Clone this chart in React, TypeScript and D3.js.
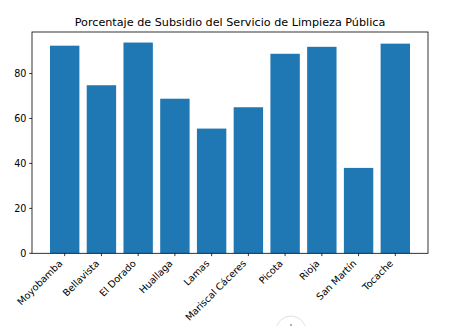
import React from "react";
import * as d3 from "d3";

const categories = ["Moyobamba", "Bellavista", "El Dorado", "Huallaga", "Lamas", "Mariscal Cáceres", "Picota", "Rioja", "San Martín", "Tocache"];
const values = [92.4, 74.8, 93.8, 68.8, 55.5, 65.0, 88.8, 91.9, 38.0, 93.3];
const yTicks = [0, 20, 40, 60, 80];
const title = "Porcentaje de Subsidio del Servicio de Limpieza Pública";

const W = 452, H = 326;
const L = 32, R = 428, T = 32, B = 253.3;
const FONT = "DejaVu Sans, sans-serif";

export default function App() {
  const n = categories.length;
  const lo = -0.4, hi = n - 1 + 0.4;
  const m = (hi - lo) * 0.05;
  const x = d3.scaleLinear().domain([lo - m, hi + m]).range([L, R]);
  const ymax = d3.max(values)! * 1.05;
  const y = d3.scaleLinear().domain([0, ymax]).range([B, T]);
  const fs = 9.6;
  const asc = 0.76 * fs, desc = 0.24 * fs;
  const Y0 = B + 2.8 + 2.8;
  return (
    <svg width={W} height={H} style={{ position: "absolute", left: 0, top: 0, background: "#fff" }} fontFamily={FONT}>
      <rect x={0} y={0} width={W} height={H} fill="#fff" />
      <text x={(L + R) / 2} y={26} textAnchor="middle" fontSize={11.2} fill="#000">{title}</text>
      {values.map((v, i) => (
        <rect key={i} x={x(i - 0.4)} y={y(v)} width={x(i + 0.4) - x(i - 0.4)} height={B - y(v)} fill="#1f77b4" />
      ))}
      <rect x={L} y={T} width={R - L} height={B - T} fill="none" stroke="#000" strokeWidth={0.8} />
      {yTicks.map((t) => (
        <g key={t}>
          <line x1={L - 2.8} x2={L} y1={y(t)} y2={y(t)} stroke="#000" strokeWidth={0.8} />
          <text x={L - 5.6} y={y(t)} dy="0.35em" textAnchor="end" fontSize={fs} fill="#000">{t}</text>
        </g>
      ))}
      {categories.map((c, i) => {
        const tx = x(i);
        const bx = tx - 0.707 * desc;
        const by = Y0 + 0.707 * asc;
        return (
          <g key={c}>
            <line x1={tx} x2={tx} y1={B} y2={B + 2.8} stroke="#000" strokeWidth={0.8} />
            <text transform={`translate(${bx},${by}) rotate(-45)`} textAnchor="end" fontSize={fs} fill="#000">{c}</text>
          </g>
        );
      })}
      <circle cx={291} cy={331} r={15} fill="none" stroke="#e0e0e0" strokeWidth={1} />
      <circle cx={291} cy={325} r={0.8} fill="#555" />
    </svg>
  );
}
